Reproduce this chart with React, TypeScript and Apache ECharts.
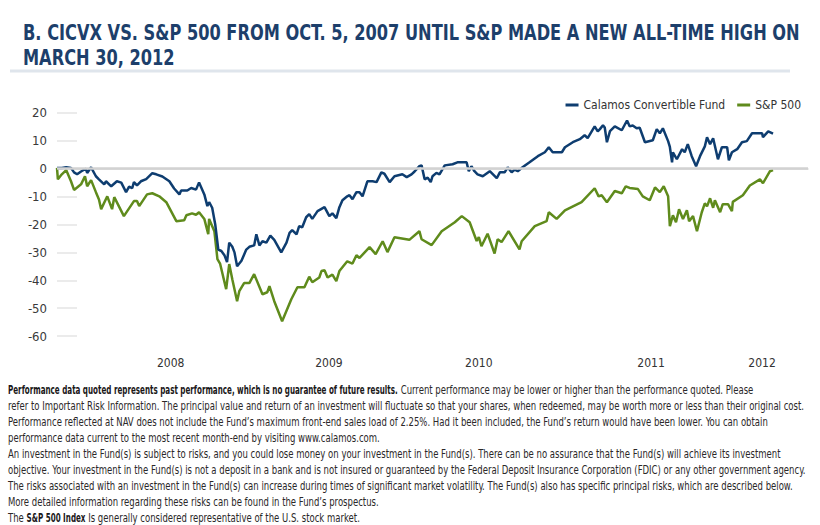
import React, { useEffect, useRef } from "react";
import * as echarts from "echarts";

// ---------- DATA ----------
const startDate = "2007-10-05";
const axisEndDate = "2012-06-18";

// days since startDate / cumulative return (%) — Calamos Convertible Fund (CICVX)
const cicvxDays = [0, 11, 21, 32, 39, 46, 55, 66, 69, 78, 89, 96, 108, 112, 124, 137, 147, 158, 165, 172, 176, 183, 192, 204, 218, 227, 241, 257, 268, 280, 284, 298, 307, 318, 325, 337, 344, 348, 355, 362, 369, 376, 383, 389, 394, 401, 406, 412, 422, 433, 440, 451, 456, 463, 470, 479, 488, 497, 513, 525, 532, 538, 548, 554, 561, 570, 577, 584, 596, 612, 623, 630, 639, 646, 653, 664, 669, 676, 685, 692, 699, 710, 722, 731, 742, 749, 761, 772, 790, 800, 811, 818, 829, 834, 841, 848, 855, 859, 868, 875, 887, 905, 916, 937, 942, 948, 955, 962, 974, 990, 1006, 1013, 1024, 1031, 1040, 1047, 1054, 1065, 1081, 1100, 1116, 1125, 1134, 1155, 1162, 1180, 1196, 1207, 1214, 1230, 1237, 1242, 1249, 1253, 1258, 1265, 1276, 1292, 1304, 1310, 1317, 1326, 1333, 1345, 1363, 1372, 1379, 1386, 1398, 1402, 1407, 1409, 1418, 1430, 1436, 1443, 1452, 1462, 1471, 1482, 1487, 1494, 1501, 1512, 1521, 1533, 1537, 1544, 1556, 1567, 1578, 1590, 1613, 1615, 1627, 1638];
const cicvxValues = [0.3, 0.3, 0.5, 0.3, -1.3, -2, -1, 0, -1.5, 0.5, -2.7, -3.8, -5.6, -4.5, -6.3, -4.5, -5, -8.4, -6.4, -7, -4.8, -6, -4.5, -3.7, -1.6, -2, -2.8, -4.5, -7.1, -9.2, -7.8, -7.8, -6.9, -7.5, -4.9, -9.2, -13.4, -12, -14, -20, -29, -29.5, -31, -33.5, -26.5, -28, -30, -35, -33, -29, -28, -27.5, -23.5, -27.5, -26, -26.5, -24, -25.5, -30, -26.5, -23, -22, -23.5, -20.6, -21, -17.4, -16.3, -18, -15.2, -13.8, -17, -16, -17.7, -13.8, -11.3, -9.9, -9.5, -10.9, -8.4, -8.4, -9.9, -4.5, -4.5, -4.8, -1.3, -1.8, -4.8, -2.7, -2, -3, -2, -1, 0.9, 1.2, -3.8, -3.2, -4.8, -2.7, -1.5, -2, 1.2, 1.6, 2.3, 2.3, -0.9, 0.9, -0.9, -2, -2.7, -0.9, -3.4, -1.3, -1.3, 0.5, -1.3, -0.3, -0.9, 0.5, 2.3, 4.5, 5.9, 7.7, 5.9, 5.9, 7.7, 9.5, 10.6, 12, 11, 15.2, 13.4, 14.2, 15.6, 14.8, 9.5, 13.5, 15.2, 13.8, 17.3, 15.2, 15.5, 14.5, 14.7, 9.5, 10.2, 14.2, 12.7, 14.5, 9.9, 7.8, 2.3, 5.9, 3.4, 7, 5.9, 8.8, 4.5, 0.9, 4.5, 8, 11.3, 8.8, 10.9, 3.4, 7.7, 7.7, 3, 5.9, 7, 9.5, 9.9, 12.7, 12.7, 11.3, 13.4, 12.6];

// days since startDate / cumulative return (%) — S&P 500
const spxDays = [0, 2, 11, 21, 32, 39, 55, 64, 69, 78, 89, 96, 101, 115, 126, 131, 153, 176, 183, 188, 206, 218, 234, 250, 273, 291, 296, 309, 318, 325, 337, 346, 348, 360, 367, 373, 387, 394, 401, 412, 417, 428, 440, 451, 470, 481, 486, 497, 515, 536, 550, 566, 577, 584, 600, 605, 612, 619, 630, 639, 646, 664, 676, 685, 692, 715, 729, 745, 756, 772, 806, 829, 834, 857, 880, 910, 926, 944, 960, 965, 971, 985, 1001, 1008, 1017, 1033, 1058, 1063, 1093, 1120, 1125, 1143, 1162, 1200, 1230, 1239, 1246, 1258, 1276, 1292, 1301, 1310, 1329, 1340, 1356, 1368, 1379, 1388, 1398, 1402, 1409, 1416, 1423, 1432, 1441, 1446, 1455, 1464, 1475, 1482, 1487, 1494, 1501, 1505, 1517, 1523, 1535, 1544, 1546, 1569, 1585, 1608, 1615, 1631, 1638];
const spxValues = [0.3, -3.8, -2, -0.5, -4.5, -7.6, -5.6, -2.7, -6.3, -4.1, -8.4, -11, -14.5, -9.9, -14.5, -10.2, -17, -11.6, -11.6, -13.4, -9.2, -8.8, -9.9, -12, -18.8, -18.5, -16.7, -16, -16.5, -15.6, -18, -23.5, -18, -22.4, -32.4, -34, -43.2, -34.2, -39.6, -47.5, -43.9, -41, -41, -37.8, -45, -44.3, -42.1, -47.5, -54.7, -46.8, -42.5, -42.5, -38.7, -40.7, -39, -36.7, -36.4, -39, -38, -40.3, -36.7, -33.2, -34, -31, -32, -28.1, -30.6, -26, -29.9, -24.6, -25.5, -22.4, -25.3, -27.4, -22.4, -19.2, -17, -19.2, -25.9, -24.5, -27.8, -23.3, -30.4, -25.3, -26.3, -22.4, -28.9, -26, -20.6, -18.8, -15.6, -18, -14.9, -12, -7, -9.9, -9.5, -12, -8, -8.8, -6.3, -6.9, -7.3, -9.9, -11.3, -6.7, -8.4, -6.3, -9.9, -20.6, -16.7, -19.2, -14.5, -18, -14.9, -18.8, -17, -22.4, -15.6, -12.4, -13.5, -10.6, -14, -11.3, -15.6, -12.7, -12.7, -15.2, -11.9, -9.5, -6, -3.8, -5.2, -0.9, -0.5];

const seriesNames = ["Calamos Convertible Fund", "S&P 500"];

const yTickValues = [20, 10, 0, -10, -20, -30, -40, -50, -60];
const yearLabels = ["2008", "2009", "2010", "2011", "2012"];
const yearLabelDates = ["2008-06-21", "2009-06-18", "2010-05-27", "2011-06-25", "2012-03-05"];

const titleLines = [
  "B. CICVX VS. S&P 500 FROM OCT. 5, 2007 UNTIL S&P MADE A NEW ALL-TIME HIGH ON",
  "MARCH 30, 2012",
];

// each line: list of [text, bold]
const footnoteLines: [string, boolean][][] = [
  [["Performance data quoted represents past performance, which is no guarantee of future results.", true], [" Current performance may be lower or higher than the performance quoted. Please", false]],
  [["refer to Important Risk Information. The principal value and return of an investment will fluctuate so that your shares, when redeemed, may be worth more or less than their original cost.", false]],
  [["Performance reflected at NAV does not include the Fund\u2019s maximum front-end sales load of 2.25%. Had it been included, the Fund\u2019s return would have been lower. You can obtain", false]],
  [["performance data current to the most recent month-end by visiting www.calamos.com.", false]],
  [["An investment in the Fund(s) is subject to risks, and you could lose money on your investment in the Fund(s). There can be no assurance that the Fund(s) will achieve its investment", false]],
  [["objective. Your investment in the Fund(s) is not a deposit in a bank and is not insured or guaranteed by the Federal Deposit Insurance Corporation (FDIC) or any other government agency.", false]],
  [["The risks associated with an investment in the Fund(s) can increase during times of significant market volatility. The Fund(s) also has specific principal risks, which are described below.", false]],
  [["More detailed information regarding these risks can be found in the Fund\u2019s prospectus.", false]],
  [["The ", false], ["S&P 500 Index", true], [" Is generally considered representative of the U.S. stock market.", false]],
];

// ---------- HELPERS ----------
const FONT = "'Liberation Sans Narrow', 'Arial Narrow', 'DejaVu Sans Condensed', Roboto, sans-serif";
const DAY = 86400000;
const toDays = (d: string) => Math.round((Date.parse(d) - Date.parse(startDate)) / DAY);

let measureCtx: CanvasRenderingContext2D | null = null;
function measure(text: string, font: string) {
  if (!measureCtx) measureCtx = document.createElement("canvas").getContext("2d");
  measureCtx!.font = font;
  return measureCtx!.measureText(text).width;
}

export default function App() {
  const ref = useRef<HTMLDivElement>(null);

  useEffect(() => {
    if (!ref.current) return;
    const chart = echarts.init(ref.current, undefined, { renderer: "svg" });

    const labelDays = yearLabelDays();
    function yearLabelDays() {
      return yearLabelDates.map(toDays);
    }
    const blue = "#0e3d70";
    const green = "#5f8b1c";

    // title
    const titleSize = 22;
    const titleFont = `bold ${titleSize}px ${FONT}`;
    const titleScale = 777 / measure(titleLines[0], titleFont);

    // footnote
    const fnSize = 12;
    const regFont = `${fnSize}px ${FONT}`;
    const boldFont = `bold ${fnSize}px ${FONT}`;
    const regScale = 797 / measure(footnoteLines[1][0][0], regFont);
    const boldScale = 390 / measure(footnoteLines[0][0][0], boldFont);

    const footnoteGraphics: any[] = [];
    footnoteLines.forEach((line, i) => {
      let x = 8;
      line.forEach(([t, b]) => {
        const font = b ? boldFont : regFont;
        const sc = b ? boldScale : regScale;
        footnoteGraphics.push({
          type: "text",
          x,
          y: 390 + i * 16,
          scaleX: sc,
          silent: true,
          style: {
            text: t,
            font,
            fill: b ? "#1a1718" : "#2b2829",
            verticalAlign: "middle",
            align: "left",
          },
        });
        x += measure(t, font) * sc;
      });
    });

    const graphics: any[] = [
      ...titleLines.map((t, i) => ({
        type: "text",
        x: 23,
        y: 32 + i * 25,
        scaleX: titleScale,
        silent: true,
        style: {
          text: t,
          fill: "#1d3f6b",
          font: titleFont,
          verticalAlign: "middle",
          align: "left",
        },
      })),
      {
        type: "line",
        silent: true,
        shape: { x1: 10, y1: 71, x2: 790, y2: 71 },
        style: { stroke: "#dfe5ec", lineWidth: 3 },
      },
      ...footnoteGraphics,
    ];

    chart.setOption({
      animation: false,
      backgroundColor: "#ffffff",
      textStyle: { fontFamily: FONT },
      legend: {
        data: seriesNames,
        right: 14,
        top: 94,
        icon: "rect",
        itemWidth: 13,
        itemHeight: 3,
        itemGap: 12,
        textStyle: { fontSize: 12, color: "#333333", fontFamily: FONT },
        selectedMode: false,
      },
      grid: { left: 57, right: 12, top: 99, bottom: 175, containLabel: false },
      xAxis: {
        type: "value",
        min: 0,
        max: toDays(axisEndDate),
        axisLine: { show: true, lineStyle: { color: "#d9d9d9", width: 1.5 } },
        axisTick: { show: false },
        splitLine: { show: false },
        axisLabel: {
          customValues: labelDays,
          margin: 7,
          fontSize: 12,
          color: "#333333",
          fontFamily: FONT,
          formatter: (v: number) => {
            const idx = labelDays.indexOf(Math.round(v));
            return idx >= 0 ? yearLabels[idx] : "";
          },
        },
      },
      yAxis: {
        type: "value",
        min: -65,
        max: 25,
        axisLine: { show: false },
        splitLine: { show: false },
        axisTick: {
          show: true,
          inside: true,
          length: 20,
          customValues: yTickValues,
          lineStyle: { color: "#e4e4e4", width: 1.5 },
        },
        axisLabel: {
          customValues: yTickValues,
          margin: 10,
          fontSize: 13,
          color: "#3a3a3a",
          fontFamily: FONT,
        },
      },
      series: [
        {
          name: "zero",
          type: "line",
          data: [],
          z: 1,
          silent: true,
          markLine: {
            silent: true,
            symbol: ["none", "none"],
            label: { show: false },
            lineStyle: { color: "#d2d2d2", width: 2.5, type: "solid" },
            data: [{ yAxis: 0 }],
          },
        },
        {
          name: seriesNames[0],
          type: "line",
          z: 3,
          data: cicvxDays.map((d, i) => [d, cicvxValues[i]]),
          showSymbol: false,
          symbol: "none",
          lineStyle: { color: blue, width: 2.5 },
          itemStyle: { color: blue },
        },
        {
          name: seriesNames[1],
          type: "line",
          z: 2,
          data: spxDays.map((d, i) => [d, spxValues[i]]),
          showSymbol: false,
          symbol: "none",
          lineStyle: { color: green, width: 2.5 },
          itemStyle: { color: green },
        },
      ],
      graphic: graphics,
    });

    return () => chart.dispose();
  }, []);

  return (
    <div
      ref={ref}
      style={{ position: "fixed", left: 0, top: 0, width: 820, height: 525, background: "#fff" }}
    />
  );
}
